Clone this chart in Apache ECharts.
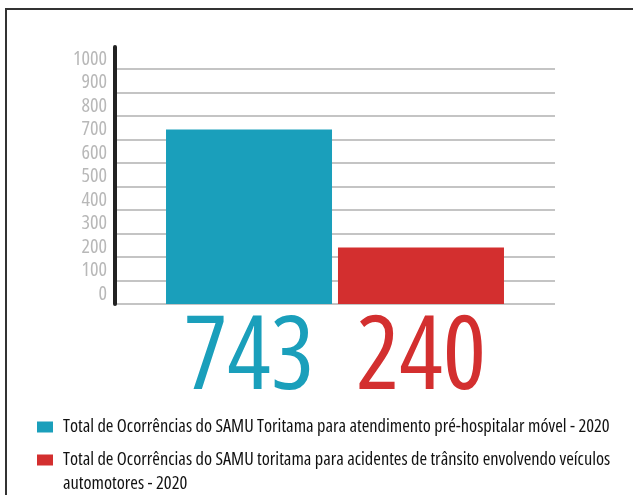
<!doctype html>
<html>
<head>
    <meta charset="utf-8">
    <title>SAMU Toritama 2020</title>
    <script src="https://cdn.jsdelivr.net/npm/echarts@6/dist/echarts.min.js"></script>
    <style>
        html, body { margin: 0; padding: 0; background: #fff; }
        #wrap { position: relative; width: 633px; height: 495px; }
        #echart { width: 633px; height: 495px; }
        #frame {
            position: absolute; left: 5px; top: 8px; right: 0; bottom: 0;
            border-left: 2px solid #333; border-top: 2px solid #333;
            pointer-events: none;
        }
    </style>
</head>
<body>
<div id="wrap">
    <div id="echart"></div>
    <div id="frame"></div>
</div>
<script>
    // dados
    var categories = [''];
    var seriesNames = [
        'Total de Ocorrências do SAMU Toritama para atendimento pré-hospitalar móvel - 2020',
        'Total de Ocorrências do SAMU toritama para acidentes de trânsito envolvendo veículos automotores - 2020'
    ];
    var values = [743, 240];
    var yTicks = [0, 100, 200, 300, 400, 500, 600, 700, 800, 900, 1000];

    var colors = ['#1a9fbb', '#d32f2f'];
    // Open Sans em largura condensada (o "condensed" vai junto com o peso)
    var font = "'Open Sans', 'DejaVu Sans', sans-serif";

    var myChart = echarts.init(document.getElementById('echart'));

    var series = seriesNames.map(function (name, i) {
        return {
            name: name,
            type: 'bar',
            xAxisIndex: 0,
            yAxisIndex: 0,
            barWidth: 166,
            barGap: '3.6%',
            itemStyle: { color: colors[i] },
            label: {
                show: true,
                position: 'bottom',
                distance: 20,
                fontFamily: font,
                fontWeight: '500 condensed',
                fontSize: 102,
                lineHeight: 72,
                color: colors[i]
            },
            data: [values[i]]
        };
    });

    var option = {
        animation: false,
        color: colors,
        grid: [
            { left: 115, right: 78, top: 69, bottom: 191 },
            // só para a linha preta do eixo, um pouco mais alta
            { left: 115, width: 10, top: 47, bottom: 191 }
        ],
        legend: [
            {
                data: [{ name: seriesNames[0], icon: 'path://M0,0h16v11h-16z M21,11' }],
                left: 37, top: 418, padding: 0,
                itemWidth: 21, itemHeight: 11,
                selectedMode: false,
                textStyle: { fontFamily: font, fontWeight: '500 condensed', fontSize: 18.4, color: '#111' }
            },
            {
                data: [{ name: seriesNames[1], icon: 'path://M0,0h16v11h-16z M21,35' }],
                left: 37, top: 448, padding: 0,
                itemWidth: 21, itemHeight: 35,
                selectedMode: false,
                formatter: function (name) {
                    return name.replace(' automotores', '\nautomotores');
                },
                textStyle: { fontFamily: font, fontWeight: '500 condensed', fontSize: 18.4, lineHeight: 24, color: '#111' }
            }
        ],
        xAxis: [
            {
                type: 'category', gridIndex: 0, data: categories,
                axisLine: { show: false }, axisTick: { show: false }, axisLabel: { show: false }
            },
            {
                type: 'category', gridIndex: 1, data: categories, show: false
            }
        ],
        yAxis: [
            {
                type: 'value', gridIndex: 0,
                min: yTicks[0], max: yTicks[yTicks.length - 1], interval: 100,
                axisLine: { show: false },
                axisTick: { show: false },
                axisLabel: {
                    color: '#b8b8b8', fontFamily: font, fontWeight: 'condensed', fontSize: 20,
                    verticalAlign: 'bottom', margin: 8,
                    formatter: function (v) { return String(v); }
                },
                splitLine: { lineStyle: { color: '#c4c4c4', width: 2 } }
            },
            {
                type: 'value', gridIndex: 1, min: 0, max: 1,
                axisLine: { show: true, lineStyle: { color: '#222', width: 4 } },
                axisTick: { show: false },
                axisLabel: { show: false },
                splitLine: { show: false }
            }
        ],
        series: series
    };

    myChart.setOption(option);
</script>
</body>
</html>
